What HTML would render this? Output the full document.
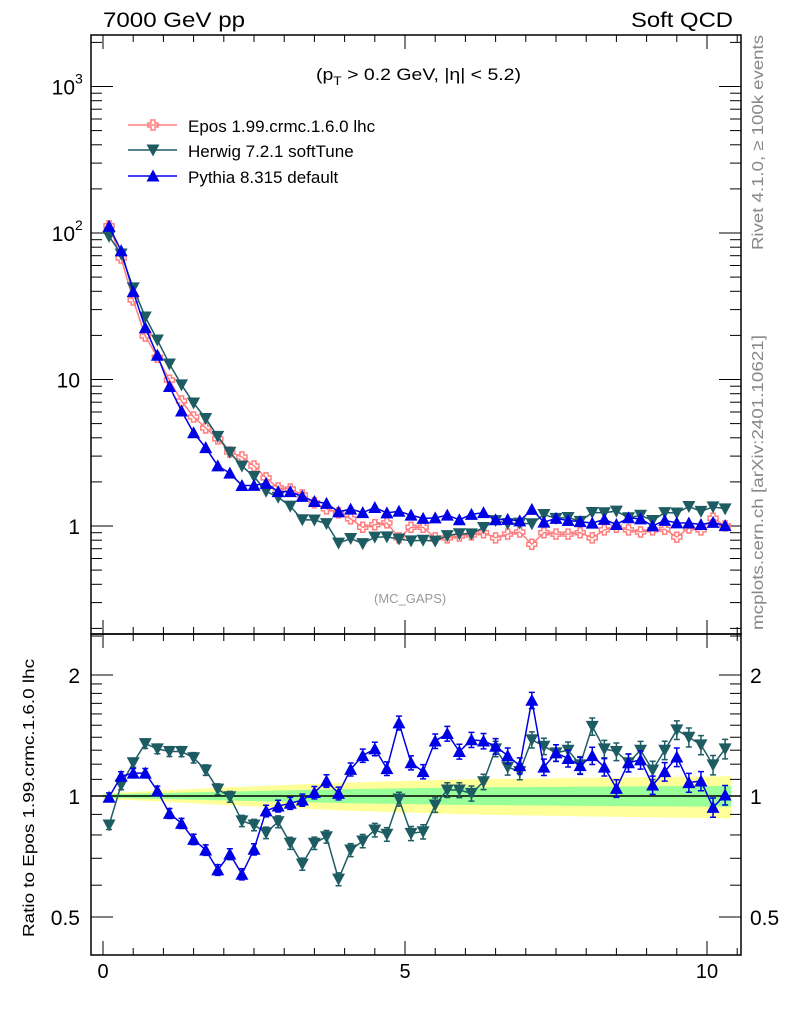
<!DOCTYPE html>
<html><head><meta charset="utf-8"><style>
body{margin:0;background:#fff;width:786px;height:1024px;overflow:hidden}
svg{font-family:"Liberation Sans",sans-serif}
</style></head><body>
<svg id="c" width="786" height="1024" viewBox="0 0 786 1024">
<text x="103" y="27" font-size="21" textLength="142" lengthAdjust="spacingAndGlyphs">7000 GeV pp</text>
<text x="631" y="27" font-size="21" textLength="102" lengthAdjust="spacingAndGlyphs">Soft QCD</text>
<text x="374" y="603" font-size="13" fill="#999">(MC_GAPS)</text>
<text transform="translate(763,250) rotate(-90)" font-size="16" fill="#888" textLength="215" lengthAdjust="spacingAndGlyphs">Rivet 4.1.0, ≥ 100k events</text>
<text transform="translate(763,630) rotate(-90)" font-size="16" fill="#888" textLength="295" lengthAdjust="spacingAndGlyphs">mcplots.cern.ch [arXiv:2401.10621]</text>
<text transform="translate(34,937) rotate(-90)" font-size="16" textLength="278" lengthAdjust="spacingAndGlyphs">Ratio to Epos 1.99.crmc.1.6.0 lhc</text>
</svg>
<script>
const xVals=[0.1,0.3,0.5,0.7,0.9,1.1,1.3,1.5,1.7,1.9,2.1,2.3,2.5,2.7,2.9,3.1,3.3,3.5,3.7,3.9,4.1,4.3,4.5,4.7,4.9,5.1,5.3,5.5,5.7,5.9,6.1,6.3,6.5,6.7,6.9,7.1,7.3,7.5,7.7,7.9,8.1,8.3,8.5,8.7,8.9,9.1,9.3,9.5,9.7,9.9,10.1,10.3];
const eposVals=[112,67.5,34.9,19.8,14.2,9.9,7.13,5.55,4.67,3.93,3.2,2.96,2.57,2.13,1.82,1.79,1.63,1.44,1.31,1.23,1.12,0.98,1.02,1.05,0.83,0.98,0.98,0.83,0.83,0.855,0.87,0.9,0.83,0.88,0.91,0.75,0.9,0.88,0.88,0.9,0.83,0.94,0.98,0.94,0.91,0.94,0.95,0.84,0.97,0.94,1.13,1.0];
const herwigRatio=[0.847,1.065,1.21,1.35,1.31,1.29,1.29,1.245,1.16,1.04,0.996,0.867,0.847,0.81,0.863,0.763,0.677,0.763,0.792,0.621,0.734,0.773,0.823,0.803,0.983,0.807,0.815,0.95,1.035,1.035,1.015,1.085,1.31,1.18,1.15,1.38,1.33,1.28,1.30,1.195,1.49,1.31,1.29,1.21,1.30,1.16,1.30,1.46,1.40,1.34,1.195,1.31];
const pythiaRatio=[0.993,1.12,1.14,1.14,1.03,0.905,0.855,0.78,0.734,0.655,0.717,0.639,0.737,0.918,0.944,0.959,0.977,1.02,1.09,1.015,1.165,1.26,1.31,1.17,1.52,1.21,1.15,1.37,1.43,1.29,1.38,1.37,1.33,1.26,1.19,1.73,1.18,1.28,1.24,1.19,1.26,1.18,1.045,1.21,1.23,1.065,1.15,1.25,1.08,1.09,0.937,1.006];
const bandX=[0,2,4,6,8,10.4];
const greenHalf=[0.01,0.025,0.04,0.05,0.055,0.06];
const yellowHalf=[0.015,0.05,0.08,0.1,0.11,0.12];
const mainTicks=[{v:1000,t:"10",s:"3"},{v:100,t:"10",s:"2"},{v:10,t:"10",s:""},{v:1,t:"1",s:""}];
const ratioTicks=[2,1,0.5];
const xTicks=[0,5,10];

const NS="http://www.w3.org/2000/svg";
const svg=document.getElementById('c');
function el(tag,attrs,parent){const e=document.createElementNS(NS,tag);for(const k in attrs)e.setAttribute(k,attrs[k]);(parent||svg).appendChild(e);return e;}
const L=91,R=741,T=35,M=634,B=955;
const X=x=>103+60.4*x;
const Y=v=>526-146.5*Math.log10(v);
const RY=v=>796-402*Math.log10(v);

function bandPath(arr){let p="";bandX.forEach((x,i)=>{p+=(i?"L":"M")+X(x)+","+RY(1+arr[i]);});for(let i=bandX.length-1;i>=0;i--)p+="L"+X(bandX[i])+","+RY(1-arr[i]);return p+"Z";}
const yb=el('path',{d:bandPath(yellowHalf),fill:'#ffff99'});


const gb=el('path',{d:bandPath(greenHalf),fill:'#99ff99'});


el('line',{x1:L,x2:R,y1:RY(1),y2:RY(1),stroke:'#000','stroke-width':1.5});

for(const [t,b] of [[T,M],[M,B]]){const f=el('rect',{x:L,y:t,width:R-L,height:b-t,fill:'none',stroke:'#000','stroke-width':1.5});

}

for(let x=0;x<=10.5;x+=0.5){const major=(x%5===0);const len=major?14:7;
for(const [t,b] of [[T,M],[M,B]]){el('line',{x1:X(x),x2:X(x),y1:t,y2:t+len,stroke:'#000'});el('line',{x1:X(x),x2:X(x),y1:b,y2:b-len,stroke:'#000'});}}
xTicks.forEach(v=>{const t=el('text',{x:X(v),y:978,'font-size':20,'text-anchor':'middle'});t.textContent=v;

});

for(let d=-1;d<=3;d++){for(let m=1;m<10;m++){const v=m*Math.pow(10,d);const y=Y(v);if(y<T||y>M)continue;const len=m===1?22:11;
el('line',{x1:L,x2:L+len,y1:y,y2:y,stroke:'#000'});el('line',{x1:R,x2:R-len,y1:y,y2:y,stroke:'#000'});}}
mainTicks.forEach(o=>{const t=el('text',{x:o.s?75:80,y:Y(o.v)+8,'font-size':21,'text-anchor':'end'});t.textContent=o.t;


if(o.s){const s=el('text',{x:75,y:Y(o.v)-3,'font-size':14});s.textContent=o.s;}});

[0.5,0.6,0.7,0.8,0.9,1,1.1,1.2,1.3,1.4,1.5,1.6,1.7,1.8,1.9,2,2.5].forEach(v=>{const y=RY(v);if(y<M||y>B)return;const len=(v===0.5||v===1||v===2)?22:11;
el('line',{x1:L,x2:L+len,y1:y,y2:y,stroke:'#000'});el('line',{x1:R,x2:R-len,y1:y,y2:y,stroke:'#000'});});
ratioTicks.forEach(v=>{for(const [x,a] of [[80,'end'],[750,'start']]){const t=el('text',{x:x,y:RY(v)+8,'font-size':21,'text-anchor':a});t.textContent=v;

}});

function marker(kind,cx,cy,color,g){
 if(kind==='cross'){const a=2,b=5;el('path',{d:`M${cx-a},${cy-b}h${2*a}v${b-a}h${b-a}v${2*a}h${a-b}v${b-a}h${-2*a}v${a-b}h${a-b}v${-2*a}h${b-a}z`,fill:'none',stroke:color,'stroke-width':1.5},g);}
 else if(kind==='down'){el('path',{d:`M${cx-6.5},${cy-5.5}L${cx+6.5},${cy-5.5}L${cx},${cy+6.5}Z`,fill:color},g);}
 else {el('path',{d:`M${cx-6.5},${cy+5.5}L${cx+6.5},${cy+5.5}L${cx},${cy-6.5}Z`,fill:color},g);}
}
function series(name,vals,yf,kind,color,err){
 const g=el('g',{});
 
 
 el('polyline',{points:vals.map((v,i)=>X(xVals[i])+','+yf(v)).join(' '),fill:'none',stroke:color,'stroke-width':1.5},g);
 vals.forEach((v,i)=>{const cx=X(xVals[i]),cy=yf(v);
  if(err){const e=0.025+0.003*xVals[i];const y1=yf(v*(1+e)),y2=yf(v*(1-e));
   el('path',{d:`M${cx},${y1}V${y2}M${cx-3},${y1}h6M${cx-3},${y2}h6`,stroke:color,'stroke-width':1.5,fill:'none'},g);}
  marker(kind,cx,cy,color,g);});
}
const epC='#ff7f7f',hwC='#1d5c63',pyC='#0000e6';
const herwigVals=eposVals.map((v,i)=>v*herwigRatio[i]);
const pythiaVals=eposVals.map((v,i)=>v*pythiaRatio[i]);
series('epos-series',eposVals,Y,'cross',epC,false);
series('herwig-series',herwigVals,Y,'down',hwC,false);
series('pythia-series',pythiaVals,Y,'up',pyC,false);
series('herwig-ratio',herwigRatio,RY,'down',hwC,true);
series('pythia-ratio',pythiaRatio,RY,'up',pyC,true);

[['Epos 1.99.crmc.1.6.0 lhc','cross',epC,125],['Herwig 7.2.1 softTune','down',hwC,150],['Pythia 8.315 default','up',pyC,176]].forEach(([lab,k,c,y])=>{
 const g=el('g',{});
 
 
 el('line',{x1:128,x2:177,y1:y,y2:y,stroke:c,'stroke-width':1.5},g);marker(k,153,y,c,g);
 const t=el('text',{x:188,y:y+7,'font-size':17},g);t.textContent=lab;});

const cut=el('text',{x:316,y:80,'font-size':17,textLength:205,lengthAdjust:'spacingAndGlyphs'});


cut.innerHTML='(p<tspan dy="5" font-size="12">T</tspan><tspan dy="-5"> &gt; 0.2 GeV, |η| &lt; 5.2)</tspan>';
</script>
</body></html>
